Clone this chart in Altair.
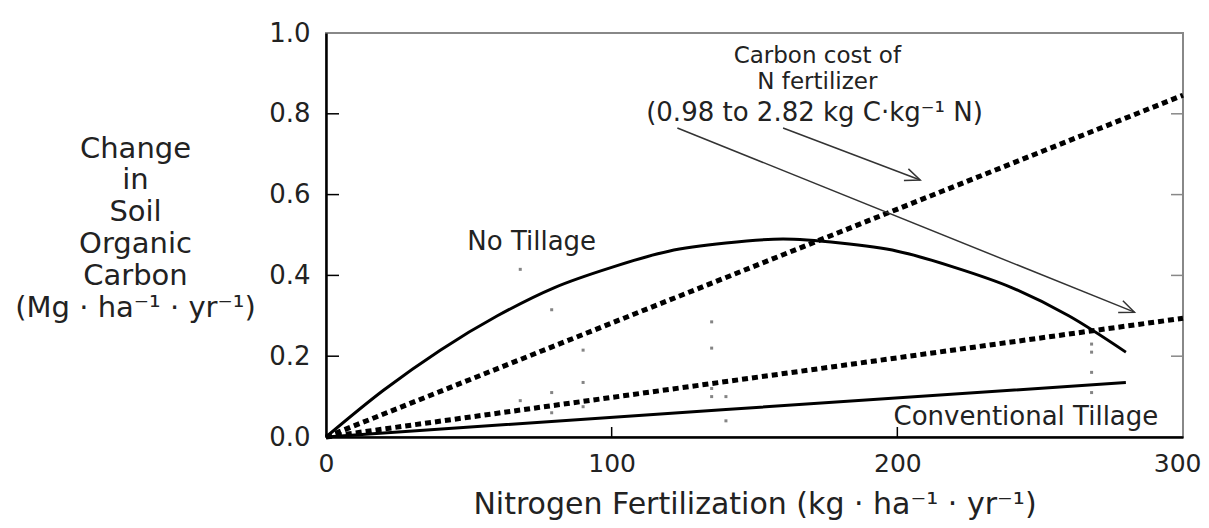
import math
import altair as alt
import pandas as pd

# ---------------- data ----------------
nt_x = [0, 20, 40, 60, 80, 100, 120, 140, 160, 180, 200, 220, 240, 260, 280]
nt_y = [0.0, 0.115, 0.215, 0.30, 0.37, 0.42, 0.46, 0.48, 0.49, 0.48, 0.46, 0.42, 0.37, 0.30, 0.21]

ct_x = [0, 140, 280]
ct_y = [0.0, 0.068, 0.135]

cost_x = [0, 300]
cost_high = [0.0, 0.846]
cost_low = [0.0, 0.294]

obs_x = [68, 68, 79, 79, 79, 90, 90, 90, 135, 135, 135, 135, 140, 140, 268, 268, 268, 268]
obs_y = [0.415, 0.09, 0.315, 0.11, 0.06, 0.215, 0.135, 0.075, 0.285, 0.22, 0.12, 0.10, 0.10, 0.04, 0.23, 0.21, 0.16, 0.11]

x_ticks = [0, 100, 200, 300]
y_ticks = [0.0, 0.2, 0.4, 0.6, 0.8, 1.0]
inner_x_ticks = [100, 200]
inner_y_ticks = [0.2, 0.4, 0.6, 0.8]

arrow_x = [123, 160]
arrow_y = [0.765, 0.765]
arrow_x2 = [283, 208]
arrow_y2 = [0.309, 0.636]

cost_title = ["Carbon cost of", "N fertilizer"]
cost_title_x = 172
cost_title_y = 0.926

label_text = ["(0.98 to 2.82 kg C·kg⁻¹ N)", "No Tillage", "Conventional Tillage"]
label_x = [171, 72, 245]
label_y = [0.802, 0.483, 0.05]

y_title = ["Change", "in", "Soil", "Organic", "Carbon", "(Mg · ha⁻¹ · yr⁻¹)"]
x_title = "Nitrogen Fertilization (kg · ha⁻¹ · yr⁻¹)"

# ---------------- layout ----------------
W, H = 857, 404
XMAX, YMAX = 300, 1.0
FONT = "DejaVu Sans"
TXT = "#222222"

xs = alt.Scale(domain=[0, XMAX], nice=False, zero=False)
ys = alt.Scale(domain=[0, YMAX], nice=False, zero=False)

nt = pd.DataFrame({"x": nt_x, "y": nt_y})
ct = pd.DataFrame({"x": ct_x, "y": ct_y})
hi = pd.DataFrame({"x": cost_x, "y": cost_high})
lo = pd.DataFrame({"x": cost_x, "y": cost_low})
obs = pd.DataFrame({"x": obs_x, "y": obs_y})

# arrow head angles computed from the arrow geometry in screen space
angs = []
for a, b, c, d in zip(arrow_x, arrow_y, arrow_x2, arrow_y2):
    dx = (c - a) * W / XMAX
    dy = (b - d) * H / YMAX
    angs.append(math.degrees(math.atan2(dx, -dy)))
arrows = pd.DataFrame({"x": arrow_x, "y": arrow_y, "x2": arrow_x2, "y2": arrow_y2, "ang": angs})
labels = pd.DataFrame({"t": label_text, "x": label_x, "y": label_y})

x_axis = alt.Axis(values=x_ticks, title=x_title, ticks=False, grid=False,
                  domainColor="black", domainWidth=2.5, labelFlush=False,
                  labelAlign=alt.ExprRef(expr=f"datum.value == {XMAX} ? 'right' : 'center'"),
                  labelOffset=alt.ExprRef(expr=f"datum.value == {XMAX} ? 18 : 0"),
                  labelFont=FONT, labelFontSize=25, labelColor=TXT, labelPadding=14,
                  titleFont=FONT, titleFontSize=30, titleFontWeight="normal", titleColor=TXT,
                  titleBaseline="alphabetic", titleY=76)
y_axis = alt.Axis(values=y_ticks, format=".1f", title=y_title, ticks=False, grid=False,
                  domainColor="black", domainWidth=2.5, labelFlush=False,
                  labelFont=FONT, labelFontSize=26, labelColor=TXT, labelPadding=16,
                  titleFont=FONT, titleFontSize=29, titleFontWeight="normal", titleColor=TXT,
                  titleAngle=0, titleAlign="center", titleBaseline="middle",
                  titleX=-191, titleY=115, titleLineHeight=31.8)

nt_line = alt.Chart(nt).mark_line(color="black", strokeWidth=3, interpolate="monotone").encode(
    x=alt.X("x:Q", scale=xs, axis=x_axis), y=alt.Y("y:Q", scale=ys, axis=y_axis))
ct_line = alt.Chart(ct).mark_line(color="black", strokeWidth=3).encode(
    x=alt.X("x:Q", scale=xs), y=alt.Y("y:Q", scale=ys))
hi_line = alt.Chart(hi).mark_line(color="black", strokeWidth=5, strokeDash=[6, 4]).encode(
    x=alt.X("x:Q", scale=xs), y=alt.Y("y:Q", scale=ys))
lo_line = alt.Chart(lo).mark_line(color="black", strokeWidth=5, strokeDash=[6, 4]).encode(
    x=alt.X("x:Q", scale=xs), y=alt.Y("y:Q", scale=ys))
pts = alt.Chart(obs).mark_square(color="#777777", size=9, opacity=0.9).encode(
    x=alt.X("x:Q", scale=xs), y=alt.Y("y:Q", scale=ys))

arrow_lines = alt.Chart(arrows).mark_rule(color="#333333", strokeWidth=1.5).encode(
    x=alt.X("x:Q", scale=xs), y=alt.Y("y:Q", scale=ys), x2="x2:Q", y2="y2:Q")
arrow_heads = alt.Chart(arrows).mark_point(
    shape="M -0.42 1 L 0 0 L 0.42 1", filled=False, size=900, strokeWidth=1.5,
    color="#333333", opacity=1).encode(
    x=alt.X("x2:Q", scale=xs), y=alt.Y("y2:Q", scale=ys), angle=alt.Angle("ang:Q", scale=None))

texts = alt.Chart(labels).mark_text(font=FONT, fontSize=26, color=TXT, align="center",
                                    baseline="middle").encode(
    x=alt.X("x:Q", scale=xs), y=alt.Y("y:Q", scale=ys), text="t:N")

cost_text = alt.Chart(pd.DataFrame({"x": [cost_title_x], "y": [cost_title_y]})).mark_text(
    text=cost_title, font=FONT, fontSize=23, color=TXT, align="center",
    baseline="alphabetic", lineHeight=26).encode(
    x=alt.X("x:Q", scale=xs), y=alt.Y("y:Q", scale=ys))

left_ticks = alt.Chart(pd.DataFrame({"y": inner_y_ticks})).mark_rule(color="black", strokeWidth=1.5).encode(
    y=alt.Y("y:Q", scale=ys), x=alt.value(0), x2=alt.value(13))
right_ticks = alt.Chart(pd.DataFrame({"y": inner_y_ticks})).mark_rule(color="#888888", strokeWidth=1.5).encode(
    y=alt.Y("y:Q", scale=ys), x=alt.value(W), x2=alt.value(W - 12))
bottom_ticks = alt.Chart(pd.DataFrame({"x": inner_x_ticks})).mark_rule(color="black", strokeWidth=1.5).encode(
    x=alt.X("x:Q", scale=xs), y=alt.value(H), y2=alt.value(H - 10))

chart = alt.layer(
    nt_line, ct_line, hi_line, lo_line, pts, arrow_lines, arrow_heads, texts, cost_text,
    left_ticks, right_ticks, bottom_ticks
).properties(
    width=W, height=H,
    autosize=alt.AutoSizeParams(type="none"),
    padding={"left": 318, "top": 25, "right": 18, "bottom": 83},
    background="white",
).configure_view(stroke="#888888", strokeWidth=2)

chart.save("out.html", embed_options={"renderer": "svg", "actions": False})
